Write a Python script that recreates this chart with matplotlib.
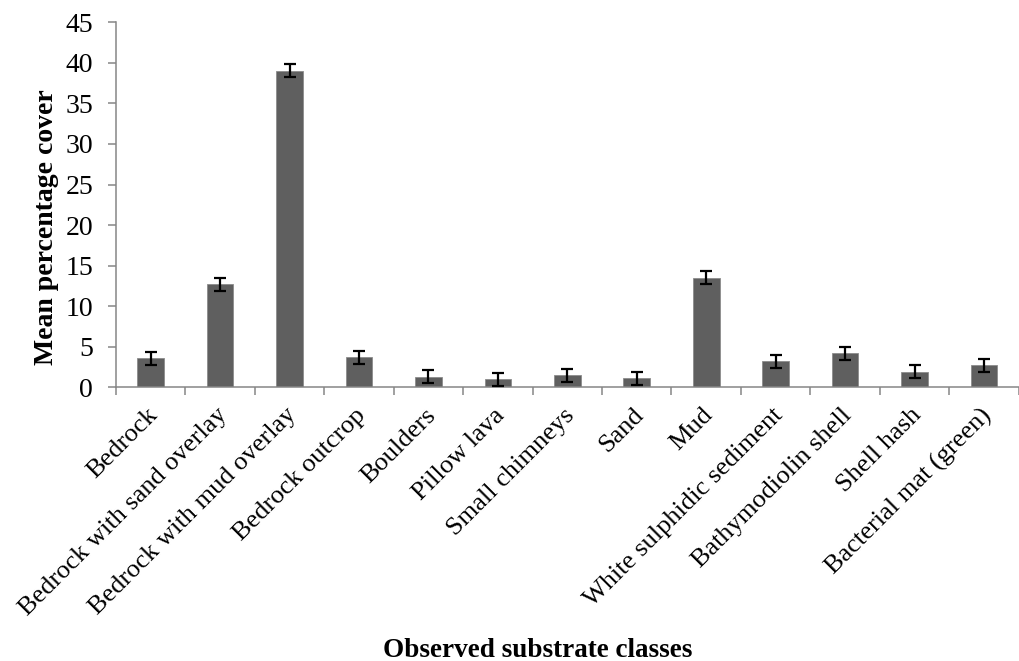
import matplotlib
matplotlib.use("Agg")
import matplotlib.pyplot as plt
import matplotlib.transforms as mtransforms
import numpy as np

plt.rcParams['font.family'] = ['Liberation Serif', 'DejaVu Serif']

categories = [
    "Bedrock", "Bedrock with sand overlay", "Bedrock with mud overlay",
    "Bedrock outcrop", "Boulders", "Pillow lava", "Small chimneys", "Sand",
    "Mud", "White sulphidic sediment", "Bathymodiolin shell", "Shell hash",
    "Bacterial mat (green)",
]
mean_cover = [3.6, 12.7, 39.0, 3.7, 1.3, 1.0, 1.5, 1.1, 13.5, 3.2, 4.2, 1.9, 2.7]
std_err = [0.8, 0.8, 0.8, 0.8, 0.8, 0.8, 0.8, 0.8, 0.8, 0.8, 0.8, 0.8, 0.8]
y_ticks = [0, 5, 10, 15, 20, 25, 30, 35, 40, 45]

AXIS_GREY = "#868686"

fig = plt.figure(figsize=(10.2, 6.61), dpi=100)
ax = fig.add_axes([0.1137, 0.414, 0.885, 0.5523])

x = np.arange(len(categories))
ax.bar(x, mean_cover, width=0.385, color="#5f5f5f", edgecolor="#8c8c8c",
       linewidth=0.6, zorder=2)
ax.errorbar(x, mean_cover, yerr=std_err, fmt="none", ecolor="black",
            elinewidth=1.6, capsize=4.5, capthick=1.6, zorder=3)

ax.set_xlim(-0.5, len(categories) - 0.5)
ax.set_ylim(0, 45)
ax.set_yticks(y_ticks)

for side in ("top", "right"):
    ax.spines[side].set_visible(False)
for side in ("left", "bottom"):
    ax.spines[side].set_color(AXIS_GREY)
    ax.spines[side].set_linewidth(1.1)

ax.tick_params(axis="y", direction="out", length=5.5, width=1.1,
               color=AXIS_GREY, labelsize=20, pad=11)
# category labels sit under the bars, tick marks sit between them
ax.set_xticks(x)
ax.set_xticks(np.arange(-0.5, len(categories)), minor=True)
ax.tick_params(axis="x", which="major", length=0, pad=12)
ax.tick_params(axis="x", which="minor", direction="out", length=5.5,
               width=1.1, color=AXIS_GREY)
ax.set_xticklabels(categories, rotation=45, ha="right", va="top",
                   rotation_mode="anchor", fontsize=19)
nudge = mtransforms.ScaledTranslation(-3 / 72, 0, fig.dpi_scale_trans)
for lbl in ax.get_xticklabels():
    lbl.set_transform(lbl.get_transform() + nudge)

fig.text(0.046, 0.657, "Mean percentage cover", rotation=90,
         ha="center", va="center", fontsize=20, fontweight="bold")
fig.text(0.527, 0.016, "Observed substrate classes", ha="center",
         va="center", fontsize=19.5, fontweight="bold")

fig.savefig("out.png", dpi=100)
